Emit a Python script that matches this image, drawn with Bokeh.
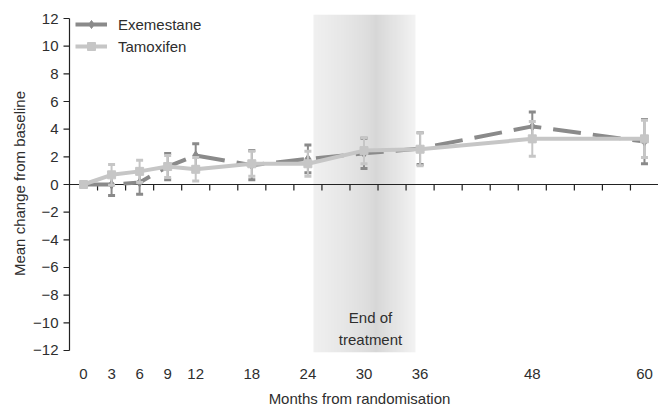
import numpy as np
from bokeh.plotting import figure
from bokeh.models import (ColumnDataSource, FixedTicker, Legend, LegendItem, Range1d)
from bokeh.core.properties import value
from bokeh.embed import file_html
from bokeh.resources import INLINE

# ---------------- data ----------------
months = [0, 3, 6, 9, 12, 18, 24, 30, 36, 48, 60]
exemestane_mean = [0.0, 0.0, 0.15, 1.3, 2.1, 1.4, 1.85, 2.25, 2.6, 4.2, 3.1]
exemestane_err = [0.0, 0.8, 0.85, 0.95, 0.85, 1.05, 1.0, 1.1, 1.15, 1.05, 1.6]
tamoxifen_mean = [0.0, 0.7, 0.95, 1.3, 1.1, 1.5, 1.5, 2.45, 2.55, 3.3, 3.3]
tamoxifen_err = [0.0, 0.75, 0.8, 0.8, 0.85, 0.9, 0.9, 0.95, 1.2, 1.25, 1.35]
x_tick_labels = [0, 3, 6, 9, 12, 18, 24, 30, 36, 48, 60]
y_ticks = list(range(-12, 13, 2))
treatment_band = (24.6, 35.5)
band_label = "End of\ntreatment"

FONT = "Liberation Sans"
TXT = "#2e2e2e"
EXE_C = "#8a8a8a"
TAM_C = "#c6c6c6"

# ---------------- geometry ----------------
W, H = 658, 410
B_LEFT, B_RIGHT, B_TOP, B_BOTTOM = 60, 0, 14, 58
frame_w = W - B_LEFT - B_RIGHT
frame_h = H - B_TOP - B_BOTTOM
x_axis_start, x_end = -1.5, 61.5
kx = (W - B_RIGHT - (B_LEFT + 9)) / (x_end - x_axis_start)
x_start = x_axis_start - 9 / kx
y_lo, y_hi = -12.145, 12.29
ky = frame_h / (y_hi - y_lo)

p = figure(width=W, height=H, output_backend="svg", toolbar_location=None,
           x_range=Range1d(x_start, x_end), y_range=Range1d(y_lo, y_hi),
           min_border_left=B_LEFT, min_border_right=B_RIGHT,
           min_border_top=B_TOP, min_border_bottom=B_BOTTOM)
p.outline_line_color = None
p.xgrid.visible = False
p.ygrid.visible = False
p.background_fill_color = "white"

# ---------------- gradient band (1-row RGBA image) ----------------
n = 100
t = (np.arange(n) + 0.5) / n
peak_t = 0.6
prof = np.where(t < peak_t, ((peak_t - t) / peak_t) ** 0.7, (t - peak_t) / (1 - peak_t))
left_edge, right_edge, peak = 240, 244, 215
edge_val = np.where(t < peak_t, left_edge, right_edge)
levels = np.round(peak + (edge_val - peak) * prof).astype(np.uint8)
img = np.empty((1, n), dtype=np.uint32)
view = img.view(dtype=np.uint8).reshape((1, n, 4))
view[0, :, 0] = levels
view[0, :, 1] = levels
view[0, :, 2] = levels
view[0, :, 3] = 255
p.image_rgba(image=[img], x=treatment_band[0], y=y_lo,
             dw=treatment_band[1] - treatment_band[0], dh=y_hi - y_lo, level="image")

p.text(x=[(treatment_band[0] + treatment_band[1]) / 2 + 0.65], y=[-10.4], text=[band_label],
       text_align="center", text_baseline="middle", text_font=value(FONT),
       text_font_size="15px", text_color=TXT, text_line_height=1.3)

# ---------------- axes lines & ticks ----------------
AX_C = "#222222"
p.segment(x0=[x_axis_start], y0=[y_ticks[0]], x1=[x_axis_start], y1=[y_ticks[-1]],
          line_color=AX_C, line_width=1.2)
p.segment(x0=[x_axis_start] * len(y_ticks), y0=y_ticks,
          x1=[x_axis_start - 6 / kx] * len(y_ticks), y1=y_ticks,
          line_color=AX_C, line_width=1.2)
p.segment(x0=[x_axis_start], y0=[0], x1=[x_end], y1=[0], line_color=AX_C, line_width=1.2)
xt = np.arange(1.5, 60, 3)
p.segment(x0=xt, y0=[0] * len(xt), x1=xt, y1=[-6 / ky] * len(xt),
          line_color=AX_C, line_width=1.2)

# ---------------- series ----------------
cap = 3.5 / kx


def draw_series(mean, err, color, dash, marker, msize):
    m = np.array(mean)
    e = np.array(err)
    x = np.array(months, dtype=float)
    p.segment(x0=x, y0=m - e, x1=x, y1=m + e, line_color=color, line_width=2)
    p.segment(x0=x - cap, y0=m + e, x1=x + cap, y1=m + e, line_color=color, line_width=3)
    p.segment(x0=x - cap, y0=m - e, x1=x + cap, y1=m - e, line_color=color, line_width=3)
    p.line(x, m, line_color=color, line_width=4, line_dash=dash)
    p.scatter(x, m, marker=marker, size=msize, fill_color=color, line_color=color)


draw_series(exemestane_mean, exemestane_err, EXE_C, "28 12", "diamond", 9)
draw_series(tamoxifen_mean, tamoxifen_err, TAM_C, "solid", "square", 8)

# ---------------- legend (placeholder renderers with NaN data) ----------------
nan_src = ColumnDataSource(dict(x=[np.nan], y=[np.nan]))
l1 = p.line("x", "y", source=nan_src, line_color=EXE_C, line_width=4)
s1 = p.scatter("x", "y", source=nan_src, marker="diamond", size=8, fill_color=EXE_C, line_color=EXE_C)
l2 = p.line("x", "y", source=nan_src, line_color=TAM_C, line_width=4)
s2 = p.scatter("x", "y", source=nan_src, marker="square", size=8, fill_color=TAM_C, line_color=TAM_C)
legend = Legend(items=[LegendItem(label="Exemestane", renderers=[l1, s1]),
                       LegendItem(label="Tamoxifen", renderers=[l2, s2])],
                location=(15, frame_h - 42), margin=0, padding=0, spacing=2,
                glyph_width=32, glyph_height=20, label_height=20, label_standoff=11,
                label_text_font=FONT, label_text_font_size="15px", label_text_color=TXT,
                background_fill_alpha=0, border_line_color=None)
p.add_layout(legend)

# ---------------- axes ----------------
xa = p.xaxis[0]
xa.ticker = FixedTicker(ticks=x_tick_labels)
xa.axis_line_color = None
xa.major_tick_line_color = None
xa.minor_tick_line_color = None
xa.major_tick_in = 0
xa.major_tick_out = 0
xa.major_label_standoff = 16
xa.major_label_text_font = FONT
xa.major_label_text_font_size = "15px"
xa.major_label_text_color = TXT
xa.axis_label = "Months from randomisation"
xa.axis_label_text_font = FONT
xa.axis_label_text_font_size = "15px"
xa.axis_label_text_font_style = "normal"
xa.axis_label_text_color = TXT
xa.axis_label_standoff = 8

ya = p.yaxis[0]
ya.ticker = FixedTicker(ticks=y_ticks)
ya.major_label_overrides = {v: (("\u2212" + str(abs(v))) if v < 0 else str(v)) for v in y_ticks}
ya.axis_line_color = None
ya.major_tick_line_color = None
ya.minor_tick_line_color = None
ya.major_tick_in = 0
ya.major_tick_out = 0
ya.major_label_standoff = 2
ya.major_label_text_font = FONT
ya.major_label_text_font_size = "15px"
ya.major_label_text_color = TXT
ya.axis_label = "Mean change from baseline"
ya.axis_label_text_font = FONT
ya.axis_label_text_font_size = "15px"
ya.axis_label_text_font_style = "normal"
ya.axis_label_text_color = TXT
ya.axis_label_standoff = 2

open("out.html", "w").write(file_html(p, INLINE))
